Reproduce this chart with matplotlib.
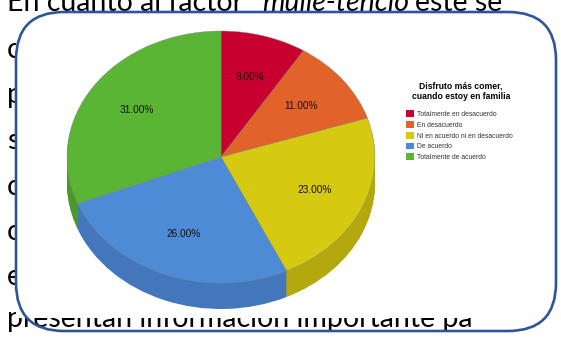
import matplotlib
matplotlib.use("Agg")
import matplotlib.pyplot as plt
from matplotlib.patches import FancyBboxPatch, Rectangle

# survey answers, share of respondents (%)
categories = ["Totalmente en desacuerdo", "En desacuerdo",
              "Ni en acuerdo ni en desacuerdo", "De acuerdo",
              "Totalmente de acuerdo"]
shares = [9.0, 11.0, 23.0, 26.0, 31.0]
legend_title = "Disfruto más comer,\ncuando estoy en familia"

top_colors = ["#C8002F", "#E2632A", "#D5C912", "#4D8BD6", "#5AB535"]
side_colors = ["#A30026", "#B84F20", "#B3A80E", "#4277BC", "#4A9A2B"]

W, H = 561, 339
fig = plt.figure(figsize=(W / 100, H / 100), dpi=100)

# page behind the chart (pixel coordinates)
bg = fig.add_axes([0, 0, 1, 1])
bg.set_xlim(0, W)
bg.set_ylim(H, 0)
bg.axis("off")

body = dict(family="Lato", fontsize=20.5, color="black", va="baseline",
            zorder=1)
bg.text(7, 11, "En cuanto al factor ", **body)
bg.text(262, 11, "mulle-tencio", style="italic", **body)
bg.text(415, 11, "este se", **body)
for ch, yb in zip("cpscce", [58, 103, 149, 195, 240, 285]):
    bg.text(7, yb, ch, **body)
bg.text(7, 327, "presentan información importante pa", **body)

# white chart image and its rounded frame
bg.add_patch(Rectangle((16, 13), 538, 305, facecolor="white",
                       edgecolor="none", zorder=3))
bg.add_patch(FancyBboxPatch((16, 12), 540, 319,
                            boxstyle="round,pad=0,rounding_size=48",
                            facecolor="none", edgecolor="#2E5596",
                            linewidth=1.9, zorder=4))

# pie axes: x radius 154 px, y radius 126 px, centre at (221, 157)
cx, cy, rx, ry = 221, 157, 154, 126
xl, yt, yb_ = 1.1, 1.1, 1.35
ax = fig.add_axes([(cx - xl * rx) / W, (H - (cy + yb_ * ry)) / H,
                   2 * xl * rx / W, (yt + yb_) * ry / H])
depth = 26 / ry

# side wall: stack of darker pies shifted downwards
n = 26
for k in range(n, 0, -1):
    ax.pie(shares, colors=side_colors, startangle=90, counterclock=False,
           center=(0, -depth * k / n),
           wedgeprops=dict(linewidth=0, antialiased=True))

wedges, _, autotexts = ax.pie(
    shares, colors=top_colors, startangle=90, counterclock=False,
    autopct="%.2f%%", pctdistance=0.66,
    wedgeprops=dict(linewidth=0.3, edgecolor="#8a8a8a"),
    textprops=dict(family="Liberation Sans", fontsize=7.3, color="#111111"))

ax.set_aspect("auto")
ax.set_xlim(-xl, xl)
ax.set_ylim(-yb_, yt)
ax.axis("off")

# legend title and entries
fig.text(461 / W, 1 - 91 / H, legend_title, ha="center", va="center",
         family="Liberation Sans", weight="bold", fontsize=6.2,
         linespacing=1.15)
leg = fig.legend(wedges, categories, loc="upper left",
                 bbox_to_anchor=(403 / W, 1 - 107 / H), frameon=False,
                 borderpad=0, prop=dict(family="Liberation Sans", size=4.9),
                 handlelength=1.15, handleheight=1.15, handletextpad=0.4,
                 labelspacing=0.45)
for t in leg.get_texts():
    t.set_color("#333333")
for h in leg.legend_handles:
    h.set_linewidth(0)

fig.savefig("out.png", dpi=100)
